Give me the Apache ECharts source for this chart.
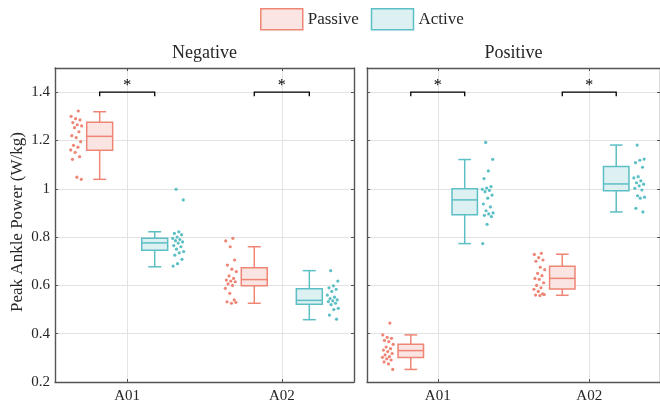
<!DOCTYPE html>
<html>
<head>
<meta charset="utf-8">
<script src="https://cdn.jsdelivr.net/npm/echarts@6/dist/echarts.min.js"></script>
<style>html,body{margin:0;padding:0;background:#fff}#c{width:660px;height:407px}</style>
</head>
<body>
<div id="c"></div>
<script>
// ---- data ----
const categories = ['A01', 'A02'];
const panels = ['Negative', 'Positive'];
const groups = ['Passive', 'Active'];
const yTicks = [0.2, 0.4, 0.6, 0.8, 1, 1.2, 1.4];

// box stats per category: [min, q1, median, q3, max]
const negPassiveBox = [[1.039, 1.159, 1.217, 1.275, 1.319], [0.526, 0.599, 0.624, 0.673, 0.760]];
const negActiveBox  = [[0.677, 0.745, 0.776, 0.795, 0.822], [0.458, 0.522, 0.538, 0.586, 0.661]];
const posPassiveBox = [[0.252, 0.301, 0.330, 0.356, 0.395], [0.559, 0.585, 0.629, 0.679, 0.729]];
const posActiveBox  = [[0.773, 0.892, 0.954, 1.000, 1.121], [0.904, 0.992, 1.020, 1.092, 1.181]];

// individual subject values
const negPassiveA01 = [1.322, 1.300, 1.290, 1.285, 1.274, 1.265, 1.260, 1.253, 1.236, 1.220, 1.212, 1.195, 1.180, 1.172, 1.161, 1.151, 1.133, 1.122, 1.048, 1.039];
const negActiveA01  = [0.998, 0.954, 0.822, 0.815, 0.810, 0.800, 0.795, 0.790, 0.785, 0.780, 0.775, 0.765, 0.760, 0.750, 0.740, 0.735, 0.725, 0.708, 0.690, 0.680];
const negPassiveA02 = [0.795, 0.784, 0.760, 0.705, 0.684, 0.667, 0.657, 0.639, 0.629, 0.622, 0.618, 0.615, 0.606, 0.600, 0.588, 0.567, 0.540, 0.532, 0.526, 0.530];
const negActiveA02  = [0.661, 0.618, 0.598, 0.590, 0.584, 0.575, 0.560, 0.551, 0.545, 0.540, 0.536, 0.533, 0.526, 0.520, 0.505, 0.500, 0.477, 0.460];
const posPassiveA01 = [0.444, 0.395, 0.385, 0.381, 0.372, 0.367, 0.356, 0.345, 0.338, 0.332, 0.326, 0.318, 0.312, 0.305, 0.302, 0.296, 0.291, 0.283, 0.275, 0.252];
const posActiveA01  = [1.192, 1.122, 1.074, 1.042, 1.009, 1.003, 0.998, 0.993, 0.988, 0.974, 0.961, 0.937, 0.925, 0.909, 0.900, 0.896, 0.890, 0.885, 0.853, 0.773];
const posPassiveA02 = [0.733, 0.728, 0.715, 0.705, 0.700, 0.675, 0.665, 0.650, 0.640, 0.629, 0.625, 0.611, 0.600, 0.590, 0.584, 0.575, 0.565, 0.560, 0.558, 0.562];
const posActiveA02  = [1.181, 1.123, 1.118, 1.108, 1.089, 1.050, 1.045, 1.033, 1.025, 1.019, 1.012, 1.002, 0.995, 0.971, 0.965, 0.961, 0.919, 0.904];

// significance: [category position, bracket level, label]
const sigNeg = [[1, 1.4, '*'], [2, 1.4, '*']];
const sigPos = [[1, 1.4, '*'], [2, 1.4, '*']];

// ---- styling ----
const FONT = '"Liberation Serif", "Times New Roman", serif';
const TXT = '#262626';
const AX = '#555555';
const GRIDC = '#e3e3e3';
const STROKE = { Passive: '#ee8575', Active: '#5cbfc5' };
const FILL = { Passive: '#fbe5e2', Active: '#ddf0f2' };
const OFF = 0.178, BOXW = 0.168;
const XMIN = 0.533, XMAX = 2.467;

const grids = [
  { left: 55, right: 306, top: 68, bottom: 25 },
  { left: 367, right: -6, top: 68, bottom: 25 }
];

function xAxisBottom(gi) {
  return {
    type: 'value', gridIndex: gi, min: XMIN, max: XMAX, position: 'bottom',
    axisLine: { show: true, onZero: false, lineStyle: { color: AX, width: 1.4 } },
    axisTick: { show: true, inside: true, length: 3, customValues: [1, 2], lineStyle: { color: AX } },
    axisLabel: { customValues: [1, 2], formatter: v => categories[Math.round(v) - 1] || '',
      fontFamily: FONT, fontSize: 15, color: TXT, margin: 7 },
    splitLine: { show: true, lineStyle: { color: GRIDC, width: 1 } }
  };
}
function xAxisTop(gi) {
  return {
    type: 'value', gridIndex: gi, min: XMIN, max: XMAX, position: 'top',
    name: panels[gi], nameLocation: 'middle', nameGap: 6,
    nameTextStyle: { fontFamily: FONT, fontSize: 18, color: TXT, verticalAlign: 'bottom' },
    axisLine: { show: true, onZero: false, lineStyle: { color: AX, width: 1.4 } },
    axisTick: { show: true, inside: true, length: 3, customValues: [1, 2], lineStyle: { color: AX } },
    axisLabel: { show: false },
    splitLine: { show: false }
  };
}
function yAxisLeft(gi) {
  return {
    type: 'value', gridIndex: gi, min: 0.2, max: 1.5, interval: 0.2, position: 'left',
    name: gi === 0 ? 'Peak Ankle Power (W/kg)' : '', nameLocation: 'middle', nameGap: 29,
    nameTextStyle: { fontFamily: FONT, fontSize: 17, color: TXT, padding: [0, 0, 0, 6] },
    axisLine: { show: true, onZero: false, lineStyle: { color: AX, width: 1.4 } },
    axisTick: { show: true, inside: true, length: 3, lineStyle: { color: AX } },
    axisLabel: { show: gi === 0, showMaxLabel: false, fontFamily: FONT, fontSize: 15, color: TXT, margin: 5,
      formatter: v => (Math.abs(v - 1.5) < 1e-6 ? '' : String(+v.toFixed(1))) },
    splitLine: { show: true, lineStyle: { color: GRIDC, width: 1 } }
  };
}
function yAxisRight(gi) {
  return {
    type: 'value', gridIndex: gi, min: 0.2, max: 1.5, interval: 0.2, position: 'right',
    axisLine: { show: true, onZero: false, lineStyle: { color: AX, width: 1.4 } },
    axisTick: { show: true, inside: true, length: 3, lineStyle: { color: AX } },
    axisLabel: { show: false },
    splitLine: { show: false }
  };
}

function boxRender(group) {
  return function (params, api) {
    const x = api.value(0);
    const p = [1, 2, 3, 4, 5].map(i => api.coord([x, api.value(i)]));
    const w = api.size([BOXW, 0])[0];
    const cx = p[0][0];
    const st = { stroke: STROKE[group], lineWidth: 1.5, fill: null };
    const cap = w / 4;
    return {
      type: 'group',
      children: [
        { type: 'line', shape: { x1: cx, y1: p[0][1], x2: cx, y2: p[1][1] }, style: st },
        { type: 'line', shape: { x1: cx, y1: p[3][1], x2: cx, y2: p[4][1] }, style: st },
        { type: 'line', shape: { x1: cx - cap, y1: p[0][1], x2: cx + cap, y2: p[0][1] }, style: st },
        { type: 'line', shape: { x1: cx - cap, y1: p[4][1], x2: cx + cap, y2: p[4][1] }, style: st },
        { type: 'rect', shape: { x: cx - w / 2, y: p[3][1], width: w, height: p[1][1] - p[3][1] },
          style: { fill: FILL[group], stroke: STROKE[group], lineWidth: 1.5 } },
        { type: 'line', shape: { x1: cx - w / 2, y1: p[2][1], x2: cx + w / 2, y2: p[2][1] }, style: st }
      ]
    };
  };
}

function sigRender(params, api) {
  const x = api.value(0), lvl = api.value(1);
  const a = api.coord([x - OFF, lvl]);
  const b = api.coord([x + OFF, lvl]);
  const leg = 4;
  return {
    type: 'group',
    children: [
      { type: 'polyline', shape: { points: [[a[0], a[1] + leg], a, b, [b[0], b[1] + leg]] },
        style: { stroke: '#000', lineWidth: 1.3, fill: null } },
      { type: 'text', x: (a[0] + b[0]) / 2, y: a[1] + 2,
        style: { text: '*', font: '16px ' + FONT, fill: '#000', align: 'center', verticalAlign: 'bottom' } }
    ]
  };
}

function jitterPoints(vals, center, side) {
  return vals.map((v, i) => {
    const f = ((i * 0.618034 + 0.31) % 1);
    return [center + side * (OFF + 0.115 + 0.075 * f), v];
  });
}

const series = [];
const panelData = [
  { P: [negPassiveBox, [negPassiveA01, negPassiveA02]], A: [negActiveBox, [negActiveA01, negActiveA02]], sig: sigNeg },
  { P: [posPassiveBox, [posPassiveA01, posPassiveA02]], A: [posActiveBox, [posActiveA01, posActiveA02]], sig: sigPos }
];
panelData.forEach((pd, gi) => {
  [['Passive', pd.P, -1], ['Active', pd.A, 1]].forEach(([name, d, side]) => {
    series.push({
      type: 'custom', name: name, xAxisIndex: gi, yAxisIndex: gi,
      renderItem: boxRender(name),
      itemStyle: { color: FILL[name], borderColor: STROKE[name] },
      encode: { x: 0, y: [1, 2, 3, 4, 5] },
      data: d[0].map((s, ci) => [ci + 1 + side * OFF].concat(s)),
      z: 3
    });
    const pts = [];
    d[1].forEach((vals, ci) => pts.push(...jitterPoints(vals, ci + 1, side)));
    series.push({
      type: 'scatter', name: name + ' pts', xAxisIndex: gi, yAxisIndex: gi,
      symbol: 'circle', symbolSize: 3.2, data: pts,
      itemStyle: { color: STROKE[name], opacity: 1 }, z: 2, silent: true
    });
  });
  series.push({
    type: 'custom', name: 'sig' + gi, xAxisIndex: gi, yAxisIndex: gi,
    renderItem: sigRender, encode: { x: 0, y: 1 },
    data: pd.sig.map(s => [s[0], s[1]]), z: 4, silent: true
  });
});

const chart = echarts.init(document.getElementById('c'), null, { renderer: 'canvas' });
chart.setOption({
  animation: false,
  backgroundColor: '#fff',
  legend: {
    top: 8, left: 260, padding: 0, itemWidth: 42, itemHeight: 21, itemGap: 12,
    textStyle: { fontFamily: FONT, fontSize: 17, color: TXT },
    data: groups.map(g => ({ name: g, icon: 'rect',
      itemStyle: { color: FILL[g], borderColor: STROKE[g], borderWidth: 1.5 } })),
    selectedMode: false
  },
  grid: grids,
  xAxis: [xAxisBottom(0), xAxisBottom(1), xAxisTop(0), xAxisTop(1)],
  yAxis: [yAxisLeft(0), yAxisLeft(1), yAxisRight(0), yAxisRight(1)],
  series: series
});
</script>
</body>
</html>
